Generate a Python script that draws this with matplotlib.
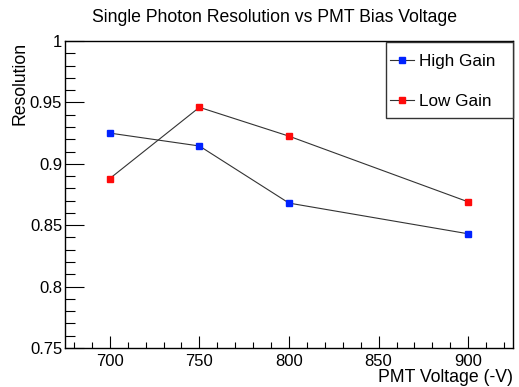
import matplotlib
matplotlib.use("Agg")
import matplotlib.pyplot as plt
from matplotlib.ticker import MultipleLocator
from matplotlib.patches import Rectangle

plt.rcParams['font.family'] = ['Liberation Sans', 'DejaVu Sans']

voltages = [700, 750, 800, 900]
high_gain = [0.925, 0.9145, 0.868, 0.843]
low_gain = [0.888, 0.946, 0.9225, 0.869]

W, H = 519, 387
fig = plt.figure(figsize=(W/100, H/100), dpi=100)
ax = fig.add_axes([65/W, 1 - 348/H, (513-65)/W, (348-41)/H])

ax.plot(voltages, high_gain, color='#333333', lw=0.8, marker='s', ms=5,
        mfc='#0022ff', mec='#0022ff', label='High Gain')
ax.plot(voltages, low_gain, color='#333333', lw=0.8, marker='s', ms=5,
        mfc='#ff0a0a', mec='#ff0a0a', label='Low Gain')

ax.set_xlim(675, 925)
ax.set_ylim(0.75, 1.0)
ax.xaxis.set_major_locator(MultipleLocator(50))
ax.xaxis.set_minor_locator(MultipleLocator(10))
ax.yaxis.set_major_locator(MultipleLocator(0.05))
ax.yaxis.set_minor_locator(MultipleLocator(0.01))

def yfmt(v, pos):
    return ('%.2f' % v).rstrip('0').rstrip('.')
ax.yaxis.set_major_formatter(plt.FuncFormatter(yfmt))

ax.tick_params(axis='both', which='both', direction='in', top=False, right=False,
               labelsize=12, width=0.8)
ax.tick_params(axis='y', which='major', length=14, pad=2)
ax.tick_params(axis='y', which='minor', length=7)
ax.tick_params(axis='x', which='major', length=9, pad=4)
ax.tick_params(axis='x', which='minor', length=4.5)
for sp in ax.spines.values():
    sp.set_linewidth(1.0)

fig.text(275/W, 1 - 18/H, 'Single Photon Resolution vs PMT Bias Voltage',
         ha='center', va='center', fontsize=12.7)
fig.text(513/W, 1 - 377/H, 'PMT Voltage (-V)', ha='right', va='center', fontsize=12.7)
fig.text(20/W, 1 - 42/H, 'Resolution', ha='center', va='top', rotation=90, fontsize=12.7)

# legend frame
fig.patches.append(Rectangle((386/W, 1 - 118/H), (513-386)/W, (118-42)/H,
                             transform=fig.transFigure, fill=True, facecolor='white',
                             edgecolor='#333333', lw=1.0, zorder=5))
leg = fig.legend(loc='upper left', bbox_to_anchor=(390/W, 1 - 54/H), borderaxespad=0,
                 fontsize=12.3, frameon=False,
                 handlelength=1.4, handletextpad=0.3, labelspacing=1.45,
                 borderpad=0.0)
leg.set_zorder(6)

fig.savefig('out.png', dpi=100)
